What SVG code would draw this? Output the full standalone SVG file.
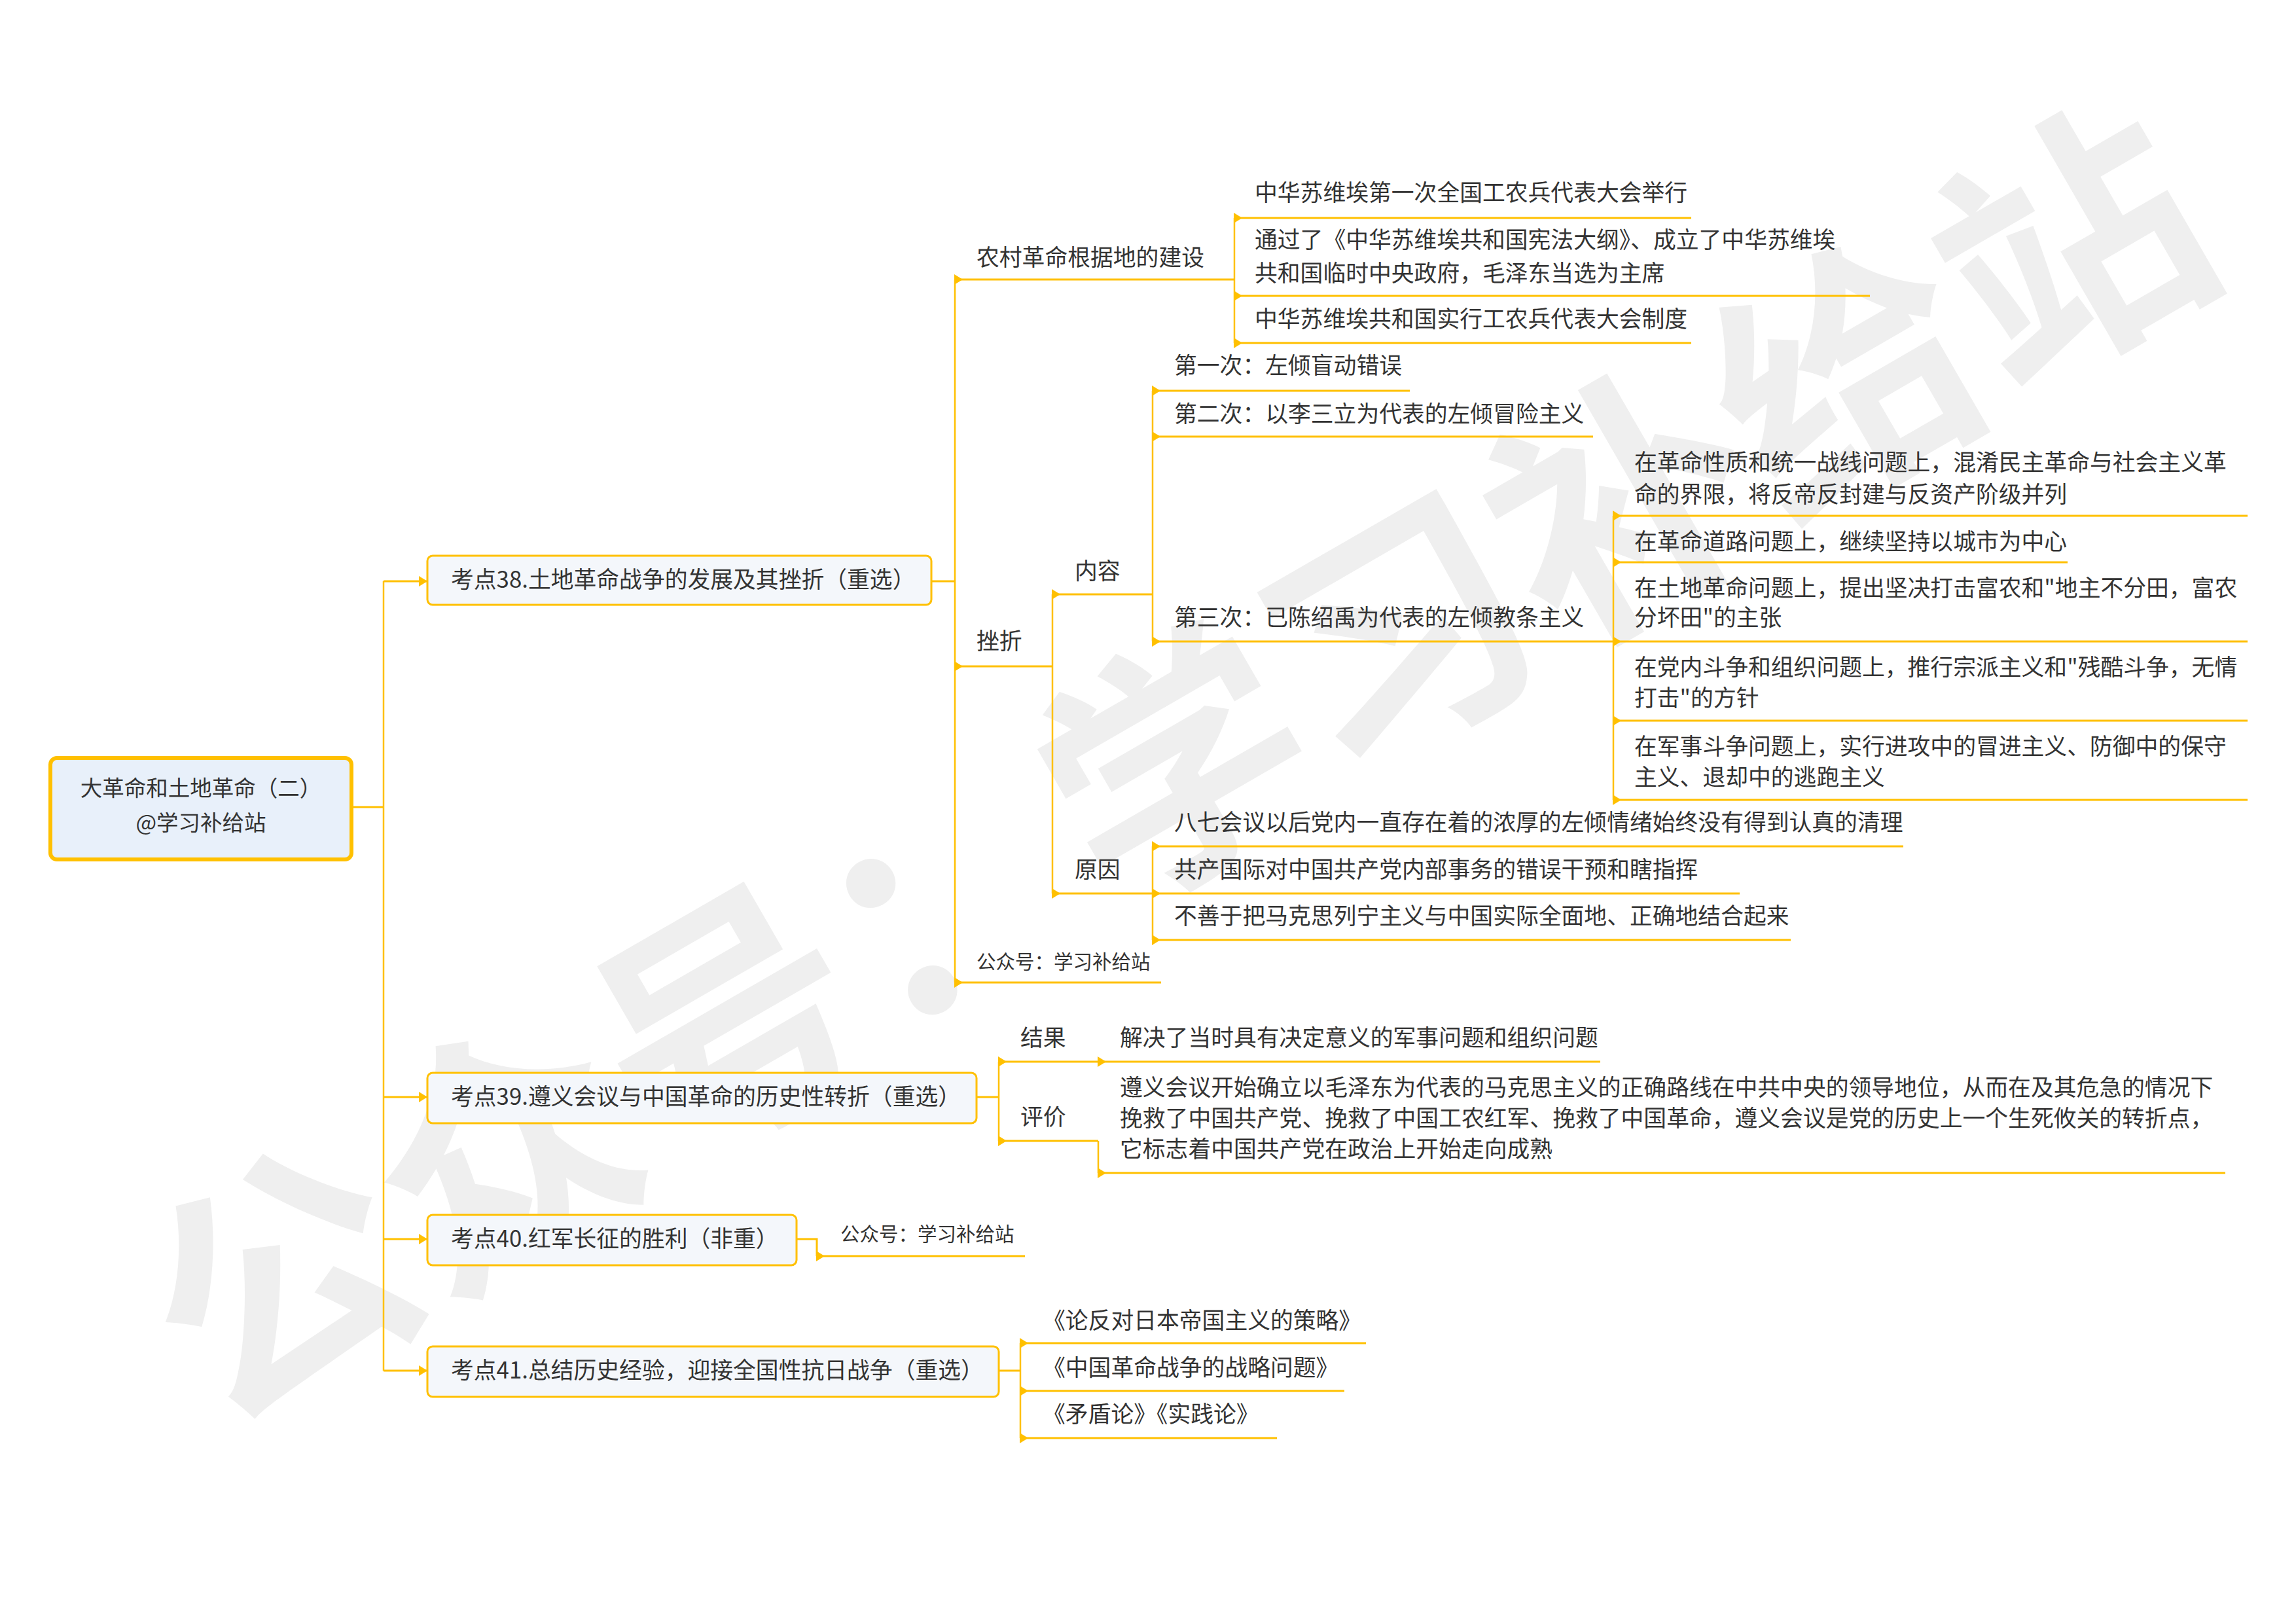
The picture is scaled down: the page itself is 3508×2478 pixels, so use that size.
<svg xmlns="http://www.w3.org/2000/svg" width="3508" height="2478" viewBox="0 0 3508 2478">
<style>
.t{font-family:"Noto Sans CJK SC","Noto Sans",sans-serif;font-size:34.8px;fill:#333333}
.s{font-size:29.5px}
.root{font-size:33.5px}
.wm{font-family:"Noto Sans CJK SC",sans-serif;font-size:395px;font-weight:700;fill:#efefef}
.ln{stroke:#FFC000;stroke-width:3;fill:none}
.v{stroke:#FFC000;stroke-width:2.5;fill:none}
.u{stroke:#FFC000;stroke-width:3;fill:none;marker-start:url(#as)}
.b{stroke:#FFC000;stroke-width:3;fill:none;marker-end:url(#ae)}
.box{fill:#F4F7FB;stroke:#FFC000;stroke-width:3}
</style>
<defs>
<marker id="as" markerUnits="userSpaceOnUse" markerWidth="14" markerHeight="16" viewBox="0 0 14 16" refX="1" refY="8" orient="auto"><path d="M0,0 L13,8 L0,16 z" fill="#FFC000"/></marker>
<marker id="ae" markerUnits="userSpaceOnUse" markerWidth="14" markerHeight="16" viewBox="0 0 14 16" refX="13" refY="8" orient="auto"><path d="M0,0 L13,8 L0,16 z" fill="#FFC000"/></marker>
</defs>
<rect width="3508" height="2478" fill="#ffffff"/>
<text class="wm" x="1800" y="1314" text-anchor="middle" transform="rotate(-30 1800 1175)">公众号：学习补给站</text>

<g id="connectors">
<path class="ln" d="M537,1233 H586"/>
<path class="v" d="M586,888 V2094"/>
<path class="b" d="M586,888 H653"/>
<path class="b" d="M586,1676 H653"/>
<path class="b" d="M586,1893 H653"/>
<path class="b" d="M586,2094 H653"/>

<path class="ln" d="M1423,888 H1459"/>
<path class="v" d="M1459,427 V1501"/>
<path class="u" d="M1459,427 H1886"/>
<path class="u" d="M1459,1018 H1608"/>
<path class="u" d="M1459,1501 H1774"/>

<path class="v" d="M1886,333 V524"/>
<path class="u" d="M1886,333 H2584"/>
<path class="u" d="M1886,452 H2857"/>
<path class="u" d="M1886,524 H2584"/>

<path class="v" d="M1608,908 V1365"/>
<path class="u" d="M1608,908 H1761"/>
<path class="u" d="M1608,1365 H1761"/>

<path class="v" d="M1761,597 V980"/>
<path class="u" d="M1761,597 H2154"/>
<path class="u" d="M1761,667 H2434"/>
<path class="u" d="M1761,980 H2465"/>

<path class="v" d="M2465,788 V1222"/>
<path class="u" d="M2465,788 H3434"/>
<path class="u" d="M2465,859 H3159"/>
<path class="u" d="M2465,980 H3434"/>
<path class="u" d="M2465,1101 H3434"/>
<path class="u" d="M2465,1222 H3434"/>

<path class="v" d="M1761,1293 V1436"/>
<path class="u" d="M1761,1293 H2908"/>
<path class="u" d="M1761,1365 H2658"/>
<path class="u" d="M1761,1436 H2736"/>

<path class="ln" d="M1492,1676 H1526"/>
<path class="v" d="M1526,1622 V1743"/>
<path class="u" d="M1526,1622 H1678"/>
<path class="u" d="M1526,1743 H1678"/>
<path class="u" d="M1678,1622 H2445"/>
<path class="v" d="M1678,1743 V1792"/>
<path class="u" d="M1678,1792 H3400"/>

<path class="ln" d="M1217,1893 H1248 V1919"/>
<path class="u" d="M1248,1919 H1566"/>

<path class="ln" d="M1526,2094 H1559"/>
<path class="v" d="M1559,2052 V2197"/>
<path class="u" d="M1559,2052 H2087"/>
<path class="u" d="M1559,2125 H2054"/>
<path class="u" d="M1559,2197 H1951"/>
</g>

<g id="root">
<rect x="77" y="1158" width="460" height="155" rx="10" fill="#E8F0FA" stroke="#FFC000" stroke-width="6"/>
<text class="t root" x="307" y="1216" text-anchor="middle">大革命和土地革命（二）</text>
<text class="t root" x="307" y="1269" text-anchor="middle">@学习补给站</text>
</g>

<g id="k38">
<rect class="box" x="653" y="849" width="770" height="75" rx="8"/>
<text class="t" x="689" y="898">考点38.土地革命战争的发展及其挫折（重选）</text>
</g>
<g id="k39">
<rect class="box" x="653" y="1639" width="839" height="77" rx="8"/>
<text class="t" x="689" y="1688">考点39.遵义会议与中国革命的历史性转折（重选）</text>
</g>
<g id="k40">
<rect class="box" x="653" y="1856" width="564" height="77" rx="8"/>
<text class="t" x="689" y="1905">考点40.红军长征的胜利（非重）</text>
</g>
<g id="k41">
<rect class="box" x="653" y="2057" width="873" height="77" rx="8"/>
<text class="t" x="689" y="2106">考点41.总结历史经验，迎接全国性抗日战争（重选）</text>
</g>

<g id="n-nongcun"><text class="t" x="1492" y="406">农村革命根据地的建设</text></g>
<g id="n-cuozhe"><text class="t" x="1492" y="992">挫折</text></g>
<g id="n-gzh1"><text class="t s" x="1492" y="1480">公众号：学习补给站</text></g>

<g id="n-nc1"><text class="t" x="1917" y="307">中华苏维埃第一次全国工农兵代表大会举行</text></g>
<g id="n-nc2"><text class="t" x="1917" y="379">通过了《中华苏维埃共和国宪法大纲》、成立了中华苏维埃</text><text class="t" x="1917" y="430">共和国临时中央政府，毛泽东当选为主席</text></g>
<g id="n-nc3"><text class="t" x="1917" y="500">中华苏维埃共和国实行工农兵代表大会制度</text></g>

<g id="n-neirong"><text class="t" x="1642" y="885">内容</text></g>
<g id="n-yuanyin"><text class="t" x="1642" y="1341">原因</text></g>

<g id="n-di1"><text class="t" x="1794" y="571">第一次：左倾盲动错误</text></g>
<g id="n-di2"><text class="t" x="1794" y="645">第二次：以李三立为代表的左倾冒险主义</text></g>
<g id="n-di3"><text class="t" x="1794" y="956">第三次：已陈绍禹为代表的左倾教条主义</text></g>

<g id="n-w1"><text class="t" x="2497" y="719">在革命性质和统一战线问题上，混淆民主革命与社会主义革</text><text class="t" x="2497" y="768">命的界限，将反帝反封建与反资产阶级并列</text></g>
<g id="n-w2"><text class="t" x="2497" y="840">在革命道路问题上，继续坚持以城市为中心</text></g>
<g id="n-w3"><text class="t" x="2497" y="911">在土地革命问题上，提出坚决打击富农和"地主不分田，富农</text><text class="t" x="2497" y="956">分坏田"的主张</text></g>
<g id="n-w4"><text class="t" x="2497" y="1032">在党内斗争和组织问题上，推行宗派主义和"残酷斗争，无情</text><text class="t" x="2497" y="1079">打击"的方针</text></g>
<g id="n-w5"><text class="t" x="2497" y="1153">在军事斗争问题上，实行进攻中的冒进主义、防御中的保守</text><text class="t" x="2497" y="1200">主义、退却中的逃跑主义</text></g>

<g id="n-y1"><text class="t" x="1794" y="1269">八七会议以后党内一直存在着的浓厚的左倾情绪始终没有得到认真的清理</text></g>
<g id="n-y2"><text class="t" x="1794" y="1341">共产国际对中国共产党内部事务的错误干预和瞎指挥</text></g>
<g id="n-y3"><text class="t" x="1794" y="1412">不善于把马克思列宁主义与中国实际全面地、正确地结合起来</text></g>

<g id="n-jieguo"><text class="t" x="1559" y="1598">结果</text></g>
<g id="n-jg1"><text class="t" x="1711" y="1598">解决了当时具有决定意义的军事问题和组织问题</text></g>
<g id="n-pingjia"><text class="t" x="1559" y="1719">评价</text></g>
<g id="n-pj1"><text class="t" x="1711" y="1674">遵义会议开始确立以毛泽东为代表的马克思主义的正确路线在中共中央的领导地位，从而在及其危急的情况下</text><text class="t" x="1711" y="1721">挽救了中国共产党、挽救了中国工农红军、挽救了中国革命，遵义会议是党的历史上一个生死攸关的转折点，</text><text class="t" x="1711" y="1768">它标志着中国共产党在政治上开始走向成熟</text></g>

<g id="n-gzh2"><text class="t s" x="1284" y="1896">公众号：学习补给站</text></g>

<g id="n-s1"><text class="t" x="1593" y="2030">《论反对日本帝国主义的策略》</text></g>
<g id="n-s2"><text class="t" x="1593" y="2102">《中国革命战争的战略问题》</text></g>
<g id="n-s3"><text class="t" x="1593" y="2173">《矛盾论》《实践论》</text></g>
</svg>
